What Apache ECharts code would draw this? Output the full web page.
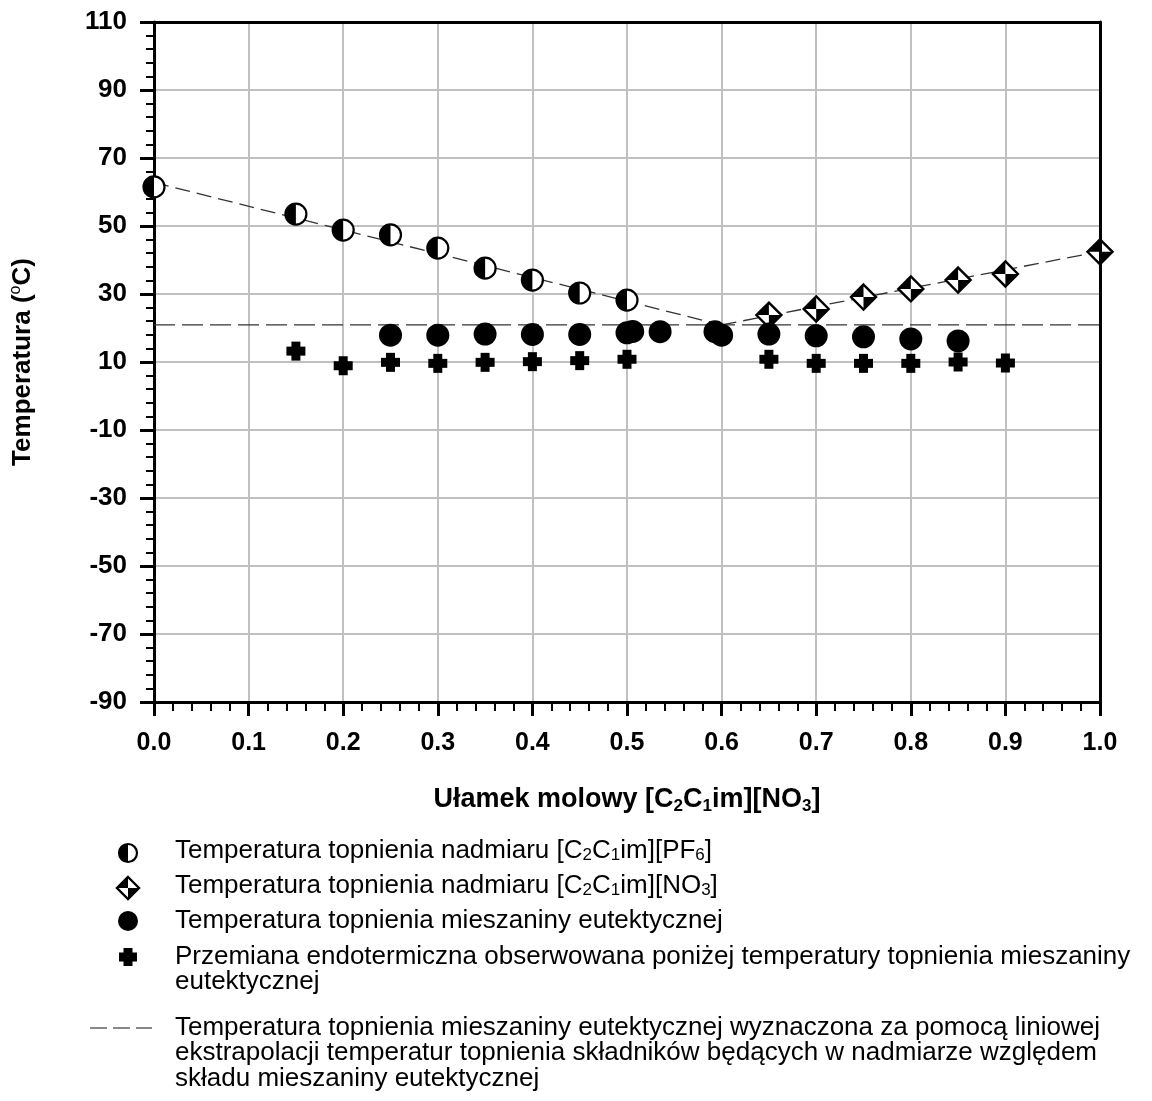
<!DOCTYPE html>
<html>
<head>
<meta charset="utf-8">
<script src="https://cdn.jsdelivr.net/npm/echarts@6/dist/echarts.min.js"></script>
<style>
  html, body { margin: 0; padding: 0; background: #fff; }
  #chart { width: 1152px; height: 1101px; }
</style>
</head>
<body>
<div id="chart"></div>
<script>
// Mole fraction of [C2C1im][NO3] (x) against temperature in °C (y)
const pf6X = [0.0, 0.15, 0.2, 0.25, 0.3, 0.35, 0.4, 0.45, 0.5];
const pf6T = [61.5, 53.5, 48.8, 47.4, 43.5, 37.6, 34.1, 30.3, 28.2];

const no3X = [0.65, 0.7, 0.75, 0.8, 0.85, 0.9, 1.0];
const no3T = [23.8, 25.6, 29.1, 31.5, 34.1, 35.9, 42.4];

const eutX = [0.25, 0.3, 0.35, 0.4, 0.45, 0.5, 0.506, 0.535, 0.593, 0.6, 0.65, 0.7, 0.75, 0.8, 0.85];
const eutT = [17.9, 17.9, 18.2, 18.1, 18.1, 18.6, 19.0, 18.9, 18.9, 17.9, 18.2, 17.7, 17.4, 16.8, 16.2];

const endoX = [0.15, 0.2, 0.25, 0.3, 0.35, 0.4, 0.45, 0.5, 0.65, 0.7, 0.75, 0.8, 0.85, 0.9];
const endoT = [13.2, 8.9, 9.9, 9.6, 9.9, 10.1, 10.4, 10.8, 10.8, 9.6, 9.6, 9.6, 10.0, 9.7];

// Linear extrapolation of both liquidus branches and the resulting eutectic temperature
const pf6FitX = [0.0, 0.6];
const pf6FitT = [62.8, 20.9];
const no3FitX = [0.6, 1.0];
const no3FitT = [20.9, 42.5];
const eutLineX = [0.0, 1.0];
const eutLineT = [20.9, 20.9];

// Tick labels
const xTicks = [0.0, 0.1, 0.2, 0.3, 0.4, 0.5, 0.6, 0.7, 0.8, 0.9, 1.0];
const yTicks = [-90, -70, -50, -30, -10, 10, 30, 50, 70, 90, 110];

// Legend entries ({s|..} = subscript)
const legendTexts = [
  'Temperatura topnienia nadmiaru [C{s|2}C{s|1}im][PF{s|6}]',
  'Temperatura topnienia nadmiaru [C{s|2}C{s|1}im][NO{s|3}]',
  'Temperatura topnienia mieszaniny eutektycznej',
  'Przemiana endotermiczna obserwowana poniżej temperatury topnienia mieszaniny\neutektycznej',
  'Temperatura topnienia mieszaniny eutektycznej wyznaczona za pomocą liniowej\nekstrapolacji temperatur topnienia składników będących w nadmiarze względem\nskładu mieszaniny eutektycznej'
];

const FONT = '"Liberation Sans", Arial, Helvetica, sans-serif';
const zip = (xs, ys) => xs.map((x, i) => [x, ys[i]]);

// ---- marker shapes (shared by series and legend) ----
function halfDiscShapes(cx, cy, r) {
  return [
    { type: 'circle', shape: { cx, cy, r }, style: { fill: '#fff', stroke: '#000', lineWidth: 2.2 } },
    { type: 'sector', shape: { cx, cy, r0: 0, r: r, startAngle: Math.PI / 2, endAngle: Math.PI * 3 / 2, clockwise: true },
      style: { fill: '#000' } }
  ];
}
function diamondShapes(cx, cy, h) {
  const top = [cx, cy - h], bot = [cx, cy + h], lft = [cx - h, cy], rgt = [cx + h, cy], c = [cx, cy];
  return [
    { type: 'polygon', shape: { points: [top, rgt, bot, lft] }, style: { fill: '#fff' } },
    { type: 'polygon', shape: { points: [c, lft, top] }, style: { fill: '#000' } },
    { type: 'polygon', shape: { points: [c, rgt, bot] }, style: { fill: '#000' } },
    { type: 'polygon', shape: { points: [top, rgt, bot, lft] }, style: { fill: null, stroke: '#000', lineWidth: 2.4, lineJoin: 'miter' } }
  ];
}
function discShapes(cx, cy, r) {
  return [{ type: 'circle', shape: { cx, cy, r }, style: { fill: '#000' } }];
}
function plusShapes(cx, cy, a, w) {
  return [
    { type: 'rect', shape: { x: cx - w / 2, y: cy - a, width: w, height: 2 * a }, style: { fill: '#000' } },
    { type: 'rect', shape: { x: cx - a, y: cy - w / 2, width: 2 * a, height: w }, style: { fill: '#000' } }
  ];
}

function markerSeries(name, xs, ys, builder) {
  return {
    name, type: 'custom', z: 5,
    data: zip(xs, ys),
    encode: { x: 0, y: 1 },
    renderItem: (params, api) => {
      const p = api.coord([api.value(0), api.value(1)]);
      return { type: 'group', children: builder(p[0], p[1]) };
    }
  };
}

function dashLine(name, xs, ys, dash) {
  return {
    name, type: 'line', z: 3, symbol: 'none', silent: true,
    data: zip(xs, ys),
    lineStyle: { color: '#333', width: 1.3, type: dash }
  };
}

const subRich = {
  s: { fontSize: 17, fontFamily: FONT, verticalAlign: 'bottom', lineHeight: 10, fill: '#000', color: '#000' }
};

const chart = echarts.init(document.getElementById('chart'), null, { renderer: 'canvas' });

const axisLineStyle = { color: '#000', width: 3 };

const option = {
  backgroundColor: '#fff',
  animation: false,
  grid: { left: 154, right: 52, top: 22, bottom: 399, containLabel: false },
  xAxis: [
    {
      type: 'value', position: 'bottom',
      min: xTicks[0], max: xTicks[xTicks.length - 1], interval: 0.1,
      axisLine: { show: true, onZero: false, lineStyle: axisLineStyle },
      axisTick: { show: true, length: 14, lineStyle: { color: '#000', width: 3 } },
      minorTick: { show: true, splitNumber: 5, length: 9, lineStyle: { color: '#000', width: 2 } },
      splitLine: { show: true, lineStyle: { color: '#c0c0c0', width: 2 } },
      axisLabel: { margin: 29, fontSize: 25, fontWeight: 'bold', fontFamily: FONT, color: '#000',
                   formatter: v => v.toFixed(1) },
      name: 'Ułamek molowy [C{sb|2}C{sb|1}im][NO{sb|3}]',
      nameLocation: 'middle', nameGap: 83,
      nameTextStyle: {
        fontSize: 27, fontWeight: 'bold', fontFamily: FONT, color: '#000', lineHeight: 30,
        rich: { sb: { fontSize: 17, fontWeight: 'bold', fontFamily: FONT, color: '#000', verticalAlign: 'bottom', lineHeight: 13 } }
      }
    },
    {
      type: 'value', position: 'top', z: 10,
      min: xTicks[0], max: xTicks[xTicks.length - 1], interval: 0.1,
      axisLine: { show: true, onZero: false, lineStyle: axisLineStyle },
      axisTick: { show: false }, axisLabel: { show: false }, splitLine: { show: false }
    }
  ],
  yAxis: [
    {
      type: 'value', position: 'left',
      min: yTicks[0], max: yTicks[yTicks.length - 1], interval: 20,
      axisLine: { show: true, onZero: false, lineStyle: axisLineStyle },
      axisTick: { show: true, length: 14, lineStyle: { color: '#000', width: 3 } },
      minorTick: { show: true, splitNumber: 5, length: 8, lineStyle: { color: '#000', width: 2 } },
      splitLine: { show: true, lineStyle: { color: '#c0c0c0', width: 2 } },
      axisLabel: { margin: 27, fontSize: 26, fontWeight: 'bold', fontFamily: FONT, color: '#000' },
      name: 'Temperatura ({sp|o}C)',
      nameLocation: 'middle', nameGap: 116, nameRotate: 90,
      nameTextStyle: {
        fontSize: 26, fontWeight: 'bold', fontFamily: FONT, color: '#000', lineHeight: 30,
        rich: { sp: { fontSize: 16, fontWeight: 'normal', fontFamily: FONT, color: '#000', verticalAlign: 'top', lineHeight: 14 } }
      }
    },
    {
      type: 'value', position: 'right', z: 10,
      min: yTicks[0], max: yTicks[yTicks.length - 1], interval: 20,
      axisLine: { show: true, onZero: false, lineStyle: axisLineStyle },
      axisTick: { show: false }, axisLabel: { show: false }, splitLine: { show: false }
    }
  ],
  series: [
    dashLine('fitPF6', pf6FitX, pf6FitT, [15, 7]),
    dashLine('fitNO3', no3FitX, no3FitT, [15, 7]),
    dashLine('eutectic', eutLineX, eutLineT, [21, 7]),
    markerSeries('pf6', pf6X, pf6T, (x, y) => halfDiscShapes(x, y, 10.5)),
    markerSeries('no3', no3X, no3T, (x, y) => diamondShapes(x, y, 12.5)),
    markerSeries('eut', eutX, eutT, (x, y) => discShapes(x, y, 11.5)),
    markerSeries('endo', endoX, endoT, (x, y) => plusShapes(x, y, 9.5, 9))
  ],
  graphic: {
    elements: [
      { type: 'group', children: halfDiscShapes(128, 853, 9) },
      { type: 'group', children: diamondShapes(128, 888, 11) },
      { type: 'group', children: discShapes(128, 921, 10) },
      { type: 'group', children: plusShapes(128, 957, 9, 9) },
      { type: 'line', shape: { x1: 90, y1: 1028, x2: 152, y2: 1028 },
        style: { stroke: '#888', lineWidth: 2, lineDash: [17, 6] } },
      ...[851, 886, 921, 957, 1028].map((cy, i) => ({
        type: 'text', x: 175, y: cy - 13,
        style: {
          text: legendTexts[i], fontSize: 26, fontFamily: FONT, fill: '#000',
          lineHeight: 25.5, verticalAlign: 'top', align: 'left', rich: subRich
        }
      }))
    ]
  }
};

chart.setOption(option);
</script>
</body>
</html>
